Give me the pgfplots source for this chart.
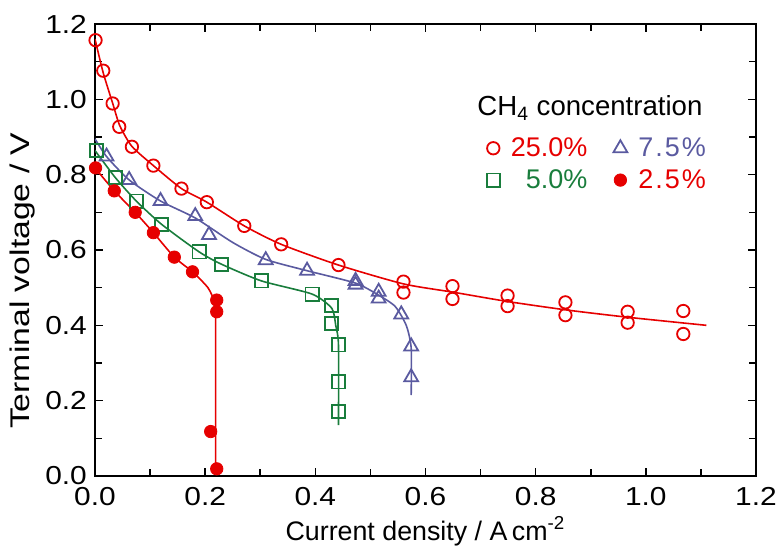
\documentclass[border=0pt]{standalone}
\usepackage{pgfplots}
\pgfplotsset{compat=1.18}
\usepackage{fontspec}
\setmainfont{Liberation Sans}

\definecolor{cred}{RGB}{230,0,0}
\definecolor{cblue}{RGB}{90,90,160}
\definecolor{cgreen}{RGB}{25,125,60}

\begin{document}
\begin{tikzpicture}
\begin{axis}[
  scale only axis,
  width=330.5pt, height=226pt,
  xmin=0, xmax=1.2, ymin=0, ymax=1.2,
  xtick={0,0.2,...,1.2}, ytick={0,0.2,...,1.2},
  minor x tick num=1, minor y tick num=1,
  tick align=inside,
  major tick length=4pt, minor tick length=3.5pt,
  every tick/.style={black, line width=0.8pt},
  axis line style={line width=1pt},
  tick label style={font=\fontsize{13}{15}\selectfont, xscale=1.15},
  /pgf/number format/assume math mode=true,
  xticklabel style={yshift=-2pt, /pgf/number format/.cd, fixed, fixed zerofill, precision=1},
  yticklabel style={/pgf/number format/.cd, fixed, fixed zerofill, precision=1},
  xlabel={Current density / A\,cm\textsuperscript{-2}},
  ylabel={Terminal voltage / V},
  xlabel style={at={(axis description cs:0.5,-0.122)}, anchor=center,
    font=\fontsize{13.4}{15}\selectfont},
  ylabel style={at={(axis description cs:-0.11,0.432)}, anchor=center,
    font=\fontsize{13.5}{16}\selectfont, xscale=1.25},
  legend columns=2,
  legend cell align=left,
  legend style={at={(rel axis cs:0.592,0.759)}, anchor=north west, draw=none, fill=none,
    font=\fontsize{13.5}{16}\selectfont, column sep=3.5pt, row sep=1pt, inner sep=0pt,
    /tikz/every even column/.append style={column sep=11pt}},
  legend image code/.code={\draw[mark repeat=2,mark phase=2] plot coordinates {(0cm,0cm)(0.1cm,0cm)(0.2cm,0cm)};},
]
% fitted curves
\addplot[cred, line width=0.8pt, smooth, tension=0.4, forget plot] coordinates {
(0,1.16) (0.015,1.07) (0.032,0.99) (0.045,0.93) (0.067,0.875) (0.106,0.824)
(0.157,0.763) (0.203,0.727) (0.271,0.664) (0.338,0.615) (0.442,0.56)
(0.56,0.51) (0.65,0.488) (0.75,0.463) (0.86,0.44) (0.97,0.421) (1.11,0.40)};
\addplot[cblue, line width=0.8pt, smooth, tension=0.4, forget plot] coordinates {
(0,0.895) (0.021,0.848) (0.062,0.786) (0.119,0.730) (0.182,0.685) (0.25,0.62)
(0.31,0.575) (0.385,0.545) (0.473,0.512) (0.515,0.48) (0.545,0.45) (0.565,0.40)
(0.574,0.34) (0.574,0.215)};
\addplot[cgreen, line width=0.8pt, smooth, tension=0.4, forget plot] coordinates {
(0,0.864) (0.037,0.792) (0.075,0.73) (0.121,0.668) (0.189,0.595) (0.230,0.562)
(0.302,0.518) (0.394,0.483) (0.43,0.445) (0.437,0.40) (0.442,0.348) (0.442,0.135)};
\addplot[cred, line width=0.8pt, smooth, tension=0.4, forget plot] coordinates {
(0,0.818) (0.035,0.757) (0.073,0.700) (0.106,0.646) (0.144,0.581) (0.177,0.542)
(0.205,0.50) (0.218,0.46) (0.219,0.44) (0.219,0.02)};
% measured points
\addplot[cred, only marks, mark=o, mark size=3.1pt, line width=0.9pt] coordinates {
(0.001,1.157) (0.015,1.076) (0.032,0.989) (0.044,0.927) (0.067,0.874) (0.106,0.824)
(0.157,0.763) (0.203,0.727) (0.271,0.664) (0.338,0.615) (0.442,0.560)
(0.560,0.516) (0.560,0.487) (0.649,0.504) (0.649,0.470) (0.749,0.479) (0.749,0.451)
(0.854,0.461) (0.854,0.427) (0.967,0.436) (0.967,0.407) (1.068,0.438) (1.068,0.377)};
\addlegendentry{\textcolor{cred}{25.0\%}}
\addplot[cblue, only marks, mark=triangle, mark size=4pt, line width=0.9pt] coordinates {
(-0.002,0.898) (0.021,0.848) (0.062,0.786) (0.119,0.730) (0.182,0.690) (0.207,0.640)
(0.310,0.573) (0.385,0.545) (0.473,0.518) (0.473,0.508) (0.515,0.489) (0.515,0.471)
(0.556,0.429) (0.574,0.344) (0.574,0.262)};
\addlegendentry{\textcolor{cblue}{7\kern1pt.\kern1pt5\kern1pt\%}}
\addplot[cgreen, only marks, mark=square, mark size=3.3pt, line width=0.9pt] coordinates {
(0.003,0.864) (0.037,0.792) (0.075,0.730) (0.121,0.668) (0.189,0.595) (0.230,0.562)
(0.302,0.518) (0.394,0.483) (0.429,0.452) (0.429,0.405) (0.442,0.348) (0.442,0.250)
(0.442,0.171)};
\addlegendentry{\textcolor{cgreen}{\hphantom{2}5.0\%}}
\addplot[cred, only marks, mark=*, mark size=3.1pt] coordinates {
(0.001,0.818) (0.035,0.757) (0.073,0.700) (0.106,0.646) (0.144,0.581) (0.177,0.542)
(0.221,0.467) (0.221,0.436) (0.210,0.118) (0.221,0.019)};
\addlegendentry{\textcolor{cred}{2\kern1pt.\kern1pt5\kern1pt\%}}
\node[anchor=west, inner sep=0pt, font=\fontsize{13.8}{15}\selectfont] at (rel axis cs:0.578,0.814) {CH\textsubscript{4} concentration};
\end{axis}
\pgfresetboundingbox
\path[use as bounding box] ([xshift=-47.5pt, yshift=-37pt]current axis.south west) rectangle ([xshift=11pt, yshift=12pt]current axis.north east);
\end{tikzpicture}
\end{document}
